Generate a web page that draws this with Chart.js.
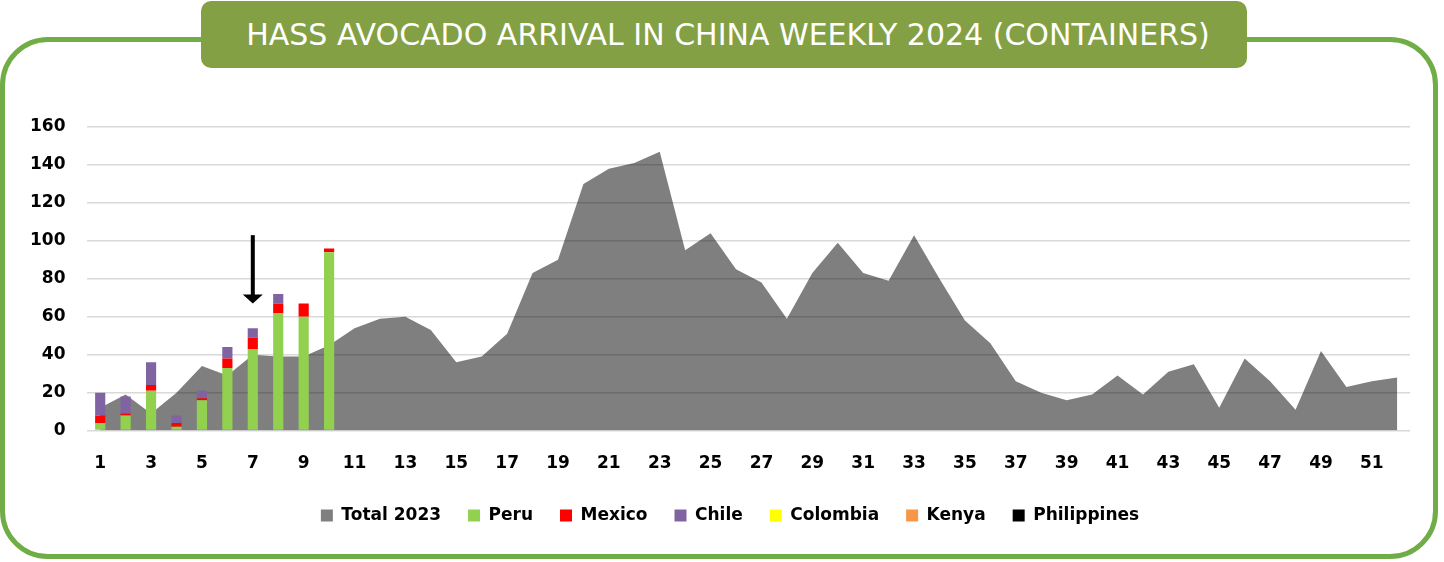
<!DOCTYPE html>
<html>
<head>
<meta charset="utf-8">
<script src="https://cdn.jsdelivr.net/npm/chart.js@4.4.1/dist/chart.umd.min.js"></script>
<style>
    body { margin: 0; background: #fff; }
    #page { position: relative; width: 1444px; height: 562px; overflow: hidden; }
    #frame {
        position: absolute; left: 0; top: 37px; width: 1438px; height: 522px;
        box-sizing: border-box; border: 5px solid #70ad47; border-radius: 48px;
    }
    #title {
        position: absolute; left: 201px; top: 1px; width: 1046px; height: 67px;
        background: #84a045; border-radius: 10px;
        color: #fff; font-family: 'DejaVu Sans', sans-serif; font-size: 30px;
        display: flex; align-items: center; justify-content: center; padding-left: 8px; box-sizing: border-box;
    }
    #chart-box { position: absolute; left: 0; top: 0; width: 1444px; height: 562px; }
</style>
</head>
<body>
<div id="page">
    <div id="frame"></div>
    <div id="title">HASS AVOCADO ARRIVAL IN CHINA WEEKLY 2024 (CONTAINERS)</div>
    <div id="chart-box"><canvas id="chart"></canvas></div>
</div>
<script>
const Weeks = ['1','2','3','4','5','6','7','8','9','10','11','12','13','14','15','16','17','18','19','20',
    '21','22','23','24','25','26','27','28','29','30','31','32','33','34','35','36','37','38','39','40',
    '41','42','43','44','45','46','47','48','49','50','51','52'];

const Total_2023 = [12, 19, 9, 20, 34, 29, 40, 39, 39, 45, 54, 59, 60, 53, 36, 39, 51, 83, 90, 130,
    138, 141, 147, 95, 104, 85, 78, 59, 83, 99, 83, 79, 103, 80, 58, 46, 26, 20, 16, 19,
    29, 19, 31, 35, 12, 38, 26, 11, 42, 23, 26, 28];

const Peru = [4, 8, 21, 2, 16, 33, 43, 62, 60, 94];
const Mexico = [4, 1, 3, 2, 1, 5, 6, 5, 7, 2];
const Chile = [12, 9, 12, 4, 4, 6, 5, 5, 0, 0];
const Colombia = [0, 0, 0, 0, 0, 0, 0, 0, 0, 0];
const Kenya = [0, 0, 0, 0, 0, 0, 0, 0, 0, 0];
const Philippines = [0, 0, 0, 0, 0, 0, 0, 0, 0, 0];

const Y_Ticks = [0, 20, 40, 60, 80, 100, 120, 140, 160];

// arrow marker pointing at the current week
const Arrow_Week = '7';
const Arrow_From = 103;
const Arrow_To = 67;

Chart.defaults.font.family = "'DejaVu Sans', sans-serif";
Chart.defaults.font.weight = 'bold';
Chart.defaults.font.size = 17;
Chart.defaults.color = '#000';

const Arrow_Plugin = {
    id: 'weekArrow',
    afterLayout(chart) {
        // legend sits a little right of centre in the original
        chart.legend.left += 42;
    },
    afterDatasetsDraw(chart) {
        const Ctx = chart.ctx;
        const X = chart.scales.x.getPixelForValue(Weeks.indexOf(Arrow_Week));
        const Y_Top = chart.scales.y.getPixelForValue(Arrow_From);
        const Y_Tip = chart.scales.y.getPixelForValue(Arrow_To);
        Ctx.save();
        Ctx.strokeStyle = '#000';
        Ctx.fillStyle = '#000';
        Ctx.lineWidth = 4;
        Ctx.beginPath();
        Ctx.moveTo(X, Y_Top);
        Ctx.lineTo(X, Y_Tip - 8);
        Ctx.stroke();
        Ctx.beginPath();
        Ctx.moveTo(X - 10, Y_Tip - 9);
        Ctx.lineTo(X + 10, Y_Tip - 9);
        Ctx.lineTo(X, Y_Tip);
        Ctx.closePath();
        Ctx.fill();
        Ctx.restore();
    }
};

function Bar_Set(Label, Data, Color) {
    return {
        type: 'bar', label: Label, data: Data, backgroundColor: Color,
        borderWidth: 0, stack: 'arrivals', order: 0,
        barPercentage: 0.4, categoryPercentage: 1
    };
}

new Chart(document.getElementById('chart'), {
    data: {
        labels: Weeks,
        datasets: [
            {
                type: 'line', label: 'Total 2023', data: Total_2023,
                backgroundColor: 'rgba(0, 0, 0, 0.5)', borderColor: 'rgba(0, 0, 0, 0.5)', borderWidth: 0,
                fill: 'origin', pointRadius: 0, tension: 0, stack: 'total', order: 1
            },
            Bar_Set('Peru', Peru, '#92d050'),
            Bar_Set('Mexico', Mexico, '#ff0000'),
            Bar_Set('Chile', Chile, '#8064a2'),
            Bar_Set('Colombia', Colombia, '#ffff00'),
            Bar_Set('Kenya', Kenya, '#f79646'),
            Bar_Set('Philippines', Philippines, '#000000')
        ]
    },
    options: {
        responsive: true,
        maintainAspectRatio: false,
        animation: false,
        events: [],
        layout: { padding: { left: 8, right: 34, top: 127, bottom: 28 } },
        scales: {
            x: {
                stacked: true,
                offset: true,
                grid: { display: false },
                border: { display: false },
                afterFit: Scale => { Scale.height -= 9; },
                ticks: {
                    autoSkip: false, maxRotation: 0, padding: 15,
                    callback: (Val, I) => (I % 2 === 0 ? Weeks[I] : '')
                }
            },
            y: {
                stacked: true,
                min: Y_Ticks[0],
                max: Y_Ticks[Y_Ticks.length - 1],
                grid: { color: '#d9d9d9', lineWidth: 1.5, drawTicks: false },
                border: { display: false },
                ticks: { stepSize: Y_Ticks[1] - Y_Ticks[0], padding: 22 }
            }
        },
        plugins: {
            legend: {
                position: 'bottom',
                labels: {
                    boxWidth: 12, boxHeight: 12, padding: 27,
                    font: { size: 17 },
                    sort: (A, B) => A.datasetIndex - B.datasetIndex
                }
            },
            tooltip: { enabled: false }
        }
    },
    plugins: [Arrow_Plugin]
});
</script>
</body>
</html>
